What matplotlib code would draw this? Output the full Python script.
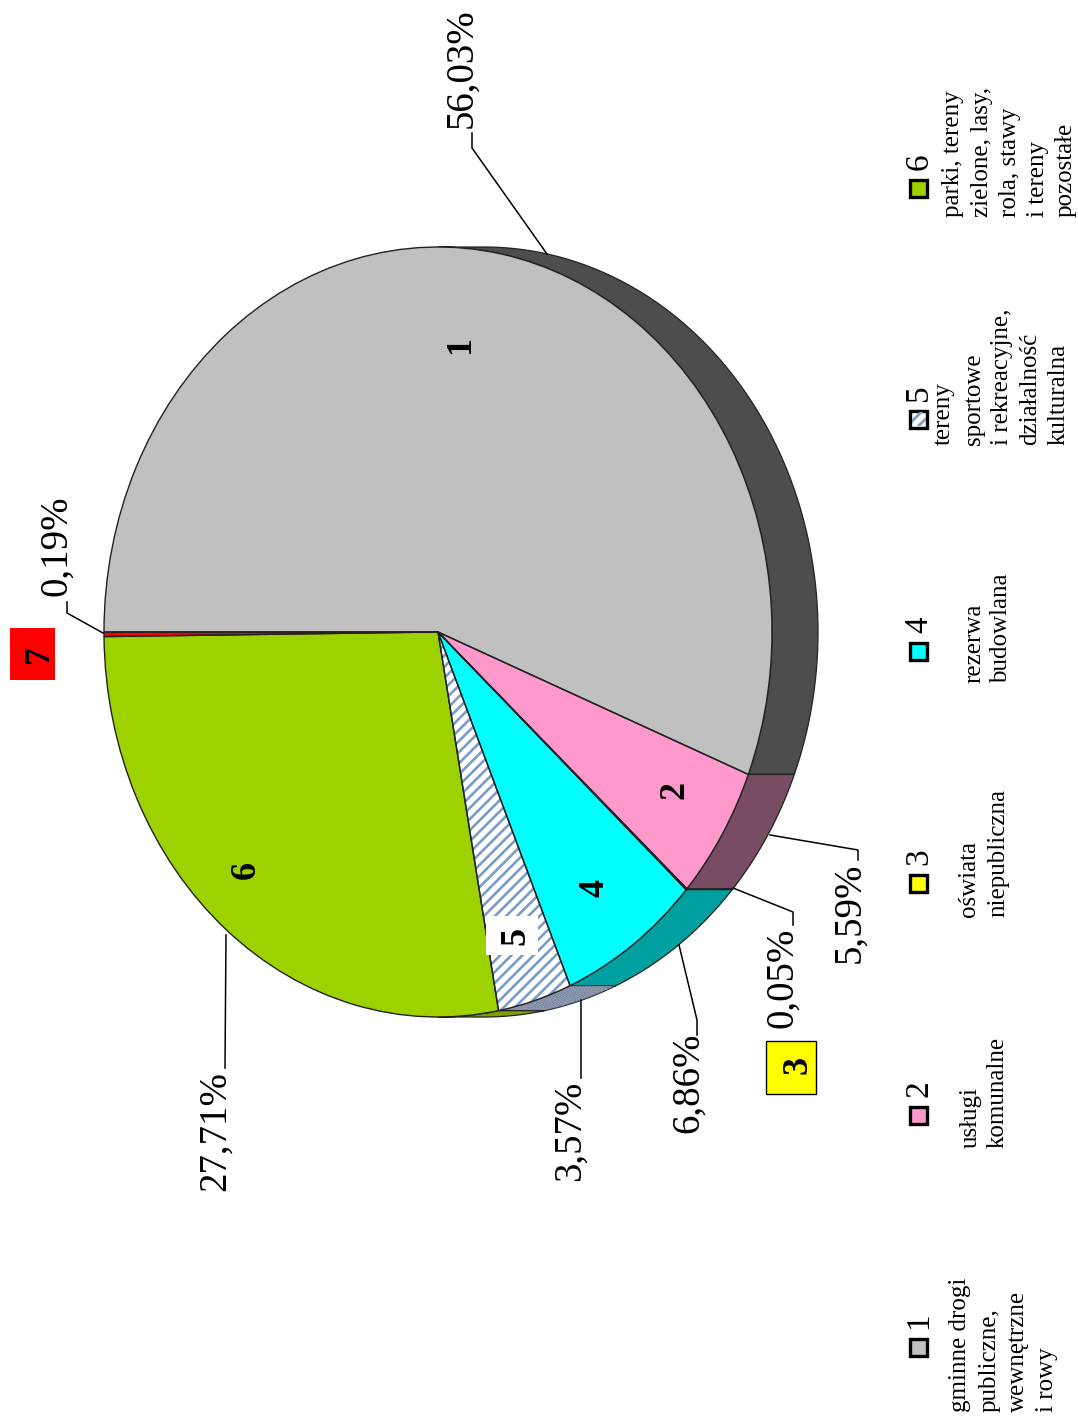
import numpy as np
import matplotlib
matplotlib.use('Agg')
import matplotlib.pyplot as plt
from matplotlib.patches import Wedge, Polygon, Rectangle
from matplotlib.transforms import Affine2D

plt.rcParams['font.family'] = ['Liberation Serif', 'DejaVu Serif']
plt.rcParams['hatch.linewidth'] = 1.9

# data, clockwise from the left edge of the pie
sectors = ['1', '2', '3', '4', '5', '6', '7']
shares = [56.03, 5.59, 0.05, 6.86, 3.57, 27.71, 0.19]
share_labels = ['56,03%', '5,59%', '0,05%', '6,86%', '3,57%', '27,71%', '0,19%']
top_colors = ['#c0c0c0', '#ff99cc', '#ffff00', '#00ffff', '#ffffff', '#9dd100', '#ff0000']
rim_colors = ['#4d4d4d', '#7a4c63', '#808000', '#00a0a0', '#a5acbd', '#7f9f00', '#800000']
legend_lines = [
	['gminne drogi', 'publiczne,', 'wewnętrzne', 'i rowy'],
	['usługi', 'komunalne'],
	['oświata', 'niepubliczna'],
	['rezerwa', 'budowlana'],
	['tereny', 'sportowe', 'i rekreacyjne,', 'działalność', 'kulturalna'],
	['parki, tereny', 'zielone, lasy,', 'rola, stawy', 'i tereny', 'pozostałe'],
]

# layout in pixels
cx, cy, rx, ry, depth = 438, 632, 334, 385, 46
label_pos = [(462, 128), (850, 963), (783, 1028), (689, 1133), (570, 1181), (215, 1191), (57, 596)]
leaders = [
	[(547, 254), (472, 148), (472, 133)],
	[(770, 835), (858, 850), (858, 860)],
	[(733, 888), (793, 912), (793, 925)],
	[(679, 945), (697, 1020), (697, 1035)],
	[(581, 1000), (581, 1078)],
	[(226, 935), (225, 1068)],
	[(103, 633), (67, 613), (67, 602)],
]
number_pos = [(461, 345), (675, 790), (798, 1065), (595, 888), (516, 936), (246, 870), (39, 654)]
number_boxes = [None, None, (766, 1041, 50, 53, '#ffff00', 'black'), None,
	(486, 916, 52, 39, 'white', 'none'), None, (10, 628, 45, 52, '#ff0000', 'none')]
legend_y = [1347, 1115, 883, 651, 419, 188]
legend_bottom = [1412, 1148, 917, 683, 445, 217]
legend_x = [
	[960, 990, 1018, 1047],
	[971, 998],
	[969, 998],
	[974, 1001],
	[944, 974, 1002, 1030, 1059],
	[953, 982, 1010, 1038, 1066],
]

def main():
	fig = plt.figure(figsize=(10.78, 14.25), dpi=100)
	ax = fig.add_axes([0, 0, 1, 1])
	ax.set_xlim(0, 1078)
	ax.set_ylim(1425, 0)
	ax.axis('off')

	# sector limits in degrees, going clockwise from 180
	edges = 180 - np.cumsum([0] + shares) * 3.6
	oval = Affine2D().scale(rx, -ry).translate(cx, cy) + ax.transData

	# side of the pie, only the part facing right is visible
	for i in range(len(shares)):
		start, stop = edges[i], edges[i + 1]
		start, stop = min(start, 90), max(stop, -90)
		if start <= stop:
			continue
		t = np.radians(np.linspace(start, stop, 120))
		arc_x = cx + rx * np.cos(t)
		arc_y = cy - ry * np.sin(t)
		pts = np.r_[np.c_[arc_x, arc_y], np.c_[arc_x + depth, arc_y][::-1]]
		ax.add_patch(Polygon(pts, closed=True, facecolor=rim_colors[i], edgecolor='#222222', lw=0.9, zorder=1))
		if sectors[i] == '5':
			ax.add_patch(Polygon(pts, closed=True, facecolor='none', edgecolor='#6f7f99', lw=0,
				hatch='.....', zorder=1))

	# top of the pie
	for i in range(len(shares)):
		hatch = '///' if sectors[i] == '5' else None
		edge = '#7a9cc6' if sectors[i] == '5' else '#222222'
		w = Wedge((0, 0), 1, edges[i + 1], edges[i], transform=oval, facecolor=top_colors[i],
			edgecolor=edge, hatch=hatch, lw=0, zorder=2)
		ax.add_patch(w)
		w2 = Wedge((0, 0), 1, edges[i + 1], edges[i], transform=oval, facecolor='none',
			edgecolor='#222222', lw=1.0, zorder=3)
		ax.add_patch(w2)

	# percentages with their leader lines
	for label, (x, y), line in zip(share_labels, label_pos, leaders):
		ax.text(x, y, label, rotation=90, fontsize=28, ha='center', va='bottom', color='black')
		xs, ys = zip(*line)
		ax.plot(xs, ys, color='black', lw=1.1, zorder=4)

	# sector numbers
	for s, (x, y), box in zip(sectors, number_pos, number_boxes):
		if box is not None:
			ax.add_patch(Rectangle(box[:2], box[2], box[3], facecolor=box[4], edgecolor=box[5], lw=1, zorder=5))
		ax.text(x, y, s, rotation=90, fontsize=26, fontweight='bold', ha='center', va='center', zorder=6)

	# legend
	for i in range(len(legend_lines)):
		ax.add_patch(Rectangle((910, legend_y[i] - 8.5), 17, 17, facecolor=top_colors[i], edgecolor='black',
			lw=2.4, zorder=5))
		if sectors[i] == '5':
			ax.add_patch(Rectangle((912, legend_y[i] - 7), 14, 14, facecolor='none', edgecolor='#7a9cc6',
				lw=0, hatch='///', zorder=6))
		ax.text(919, legend_y[i] - 18, sectors[i], rotation=90, fontsize=24, ha='center', va='bottom')
		for x, line in zip(legend_x[i], legend_lines[i]):
			ax.text(x, legend_bottom[i], line, rotation=90, fontsize=18, ha='center', va='bottom')

	fig.savefig('out.png', dpi=100)

if __name__ == '__main__':
	main()
